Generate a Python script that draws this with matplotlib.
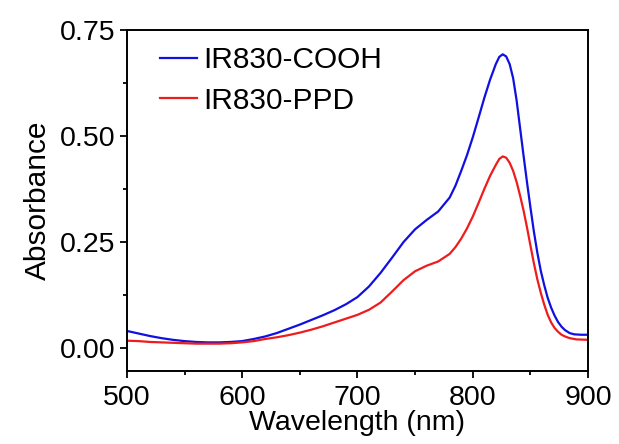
import matplotlib
matplotlib.use("Agg")
import matplotlib.pyplot as plt
from matplotlib.ticker import MultipleLocator

plt.rcParams["font.family"] = ["Liberation Sans", "DejaVu Sans"]

# absorbance spectra
wl_cooh = [500, 510, 520, 530, 540, 550, 560, 570, 580, 590, 600, 610, 620, 630,
           640, 650, 660, 670, 680, 690, 700, 710, 720, 730, 740, 750, 760, 770,
           780, 785, 790, 795, 800, 805, 810, 815, 820, 823, 826, 829, 832, 835,
           838, 841, 844, 847, 850, 853, 856, 859, 862, 865, 868, 871, 874, 877,
           880, 884, 888, 894, 900]
abs_cooh = [0.040, 0.034, 0.028, 0.023, 0.019, 0.016, 0.014, 0.013, 0.013, 0.014,
            0.016, 0.021, 0.027, 0.035, 0.045, 0.055, 0.066, 0.077, 0.089, 0.103,
            0.120, 0.145, 0.177, 0.213, 0.250, 0.280, 0.302, 0.322, 0.355, 0.383,
            0.418, 0.455, 0.497, 0.543, 0.590, 0.633, 0.670, 0.687, 0.693, 0.688,
            0.670, 0.637, 0.585, 0.520, 0.455, 0.392, 0.332, 0.275, 0.225, 0.182,
            0.148, 0.118, 0.095, 0.076, 0.061, 0.050, 0.042, 0.035, 0.032, 0.031,
            0.031]

wl_ppd = [500, 510, 520, 530, 540, 550, 560, 570, 580, 590, 600, 610, 620, 630,
          640, 650, 660, 670, 680, 690, 700, 710, 720, 730, 740, 750, 760, 770,
          780, 785, 790, 795, 800, 805, 810, 815, 820, 823, 826, 829, 832, 835,
          838, 841, 844, 847, 850, 853, 856, 859, 862, 865, 868, 871, 874, 877,
          880, 884, 890, 900]
abs_ppd = [0.017, 0.016, 0.014, 0.013, 0.012, 0.011, 0.010, 0.010, 0.010, 0.011,
           0.013, 0.016, 0.021, 0.025, 0.030, 0.036, 0.043, 0.051, 0.060, 0.069,
           0.078, 0.090, 0.107, 0.133, 0.160, 0.181, 0.194, 0.204, 0.222, 0.238,
           0.258, 0.282, 0.310, 0.342, 0.375, 0.406, 0.432, 0.446, 0.452, 0.449,
           0.437, 0.418, 0.392, 0.360, 0.325, 0.285, 0.242, 0.200, 0.162, 0.130,
           0.102, 0.078, 0.060, 0.047, 0.038, 0.031, 0.027, 0.023, 0.020, 0.019]

fig = plt.figure(figsize=(6.19, 4.44), dpi=100)
ax = fig.add_axes([0.205, 0.164, 0.745, 0.768])

ax.plot(wl_cooh, abs_cooh, color="#1010e0", linewidth=1.6, label="IR830-COOH")
ax.plot(wl_ppd, abs_ppd, color="#ee1c1c", linewidth=1.6, label="IR830-PPD")

ax.set_xlim(500, 900)
ax.set_ylim(-0.055, 0.75)
ax.xaxis.set_major_locator(MultipleLocator(100))
ax.xaxis.set_minor_locator(MultipleLocator(50))
ax.yaxis.set_major_locator(MultipleLocator(0.25))
ax.yaxis.set_minor_locator(MultipleLocator(0.125))
ax.yaxis.set_major_formatter(plt.FuncFormatter(lambda v, p: f"{v:.2f}"))

ax.tick_params(which="major", direction="out", length=5, width=1.3, labelsize=20.5,
               pad=3, top=False, right=False)
ax.tick_params(axis="x", which="major", pad=5)
ax.tick_params(which="minor", direction="out", length=3, width=1.3, top=False, right=False)
for s in ax.spines.values():
    s.set_linewidth(1.4)

ax.set_xlabel("Wavelength (nm)", fontsize=20.5, labelpad=-1)
ax.set_ylabel("Absorbance", fontsize=21.5, labelpad=6)

ax.legend(loc="upper left", frameon=False, fontsize=21.5, handlelength=1.25,
          handletextpad=0.2, borderaxespad=0.2, labelspacing=0.42,
          bbox_to_anchor=(0.033, 1.005))

fig.savefig("out.png", dpi=100)
